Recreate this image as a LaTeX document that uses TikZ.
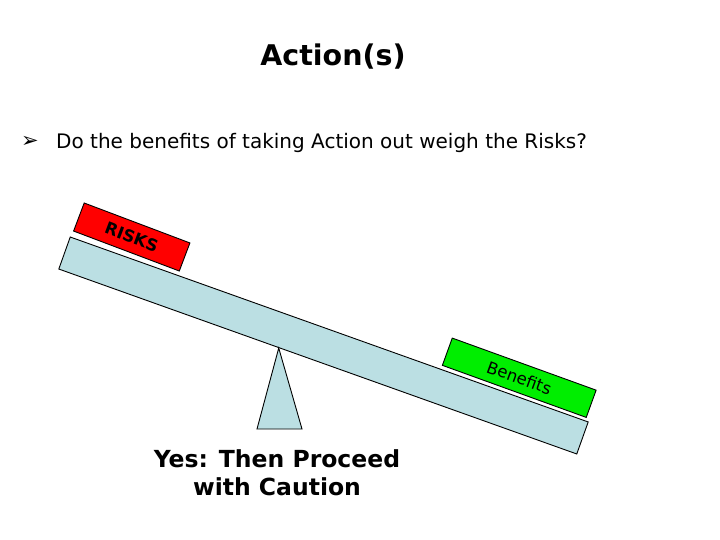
\documentclass[tikz,border=0pt]{standalone}
\usepackage{fontspec}
\setmainfont{DejaVu Sans}
\usepackage{xcolor}
\usetikzlibrary{calc}
\definecolor{beam-blue}{RGB}{187,223,227}
\definecolor{risk-red}{RGB}{255,0,0}
\definecolor{gain-green}{RGB}{0,238,0}

\begin{document}
\begin{tikzpicture}[x=1pt, y=-1pt,
    plank/.style={draw, line width=0.9pt, fill=beam-blue, inner sep=0pt},
    weight/.style={draw, line width=0.9pt, inner sep=0pt, font=\fontsize{16.5}{16.5}\selectfont}]
    \useasboundingbox (0, 0) rectangle (720, 540);

    \node[font=\bfseries\fontsize{28.5}{28.5}\selectfont] (title) at (333, 57) {Action(s)};
    \node[font=\fontsize{21}{21}\selectfont] (bullet) at (30, 142) {➢};
    \node[font=\fontsize{20}{20}\selectfont, anchor=west, inner sep=0pt] (question)
      at (56, 143) {Do the benefits of taking Action out weigh the Risks?};

    \node[plank, minimum width=550pt, minimum height=34pt, rotate=-19.65]
      (board) at (323.5, 345.5) {};
    \node[weight, fill=risk-red, minimum width=113pt, minimum height=30pt,
      rotate=-20.7, font=\bfseries\fontsize{16.5}{16.5}\selectfont] (risks)
      at (131.75, 237) {RISKS};
    \node[weight, fill=gain-green, minimum width=153pt, minimum height=29pt,
      rotate=-19.9] (benefits) at (519.25, 377.75) {Benefits};

    \coordinate (apex) at ($(board.south west)!0.425!(board.south east)$);
    \coordinate (base-l) at (257, 429);
    \coordinate (base-r) at (302, 429);
    \filldraw[line width=0.9pt, fill=beam-blue] (apex) -- (base-r) -- (base-l) -- cycle;

    \node[font=\bfseries\fontsize{23.5}{28}\selectfont, align=center] (answer)
      at (277, 473) {Yes: Then Proceed\\with Caution};
\end{tikzpicture}
\end{document}
